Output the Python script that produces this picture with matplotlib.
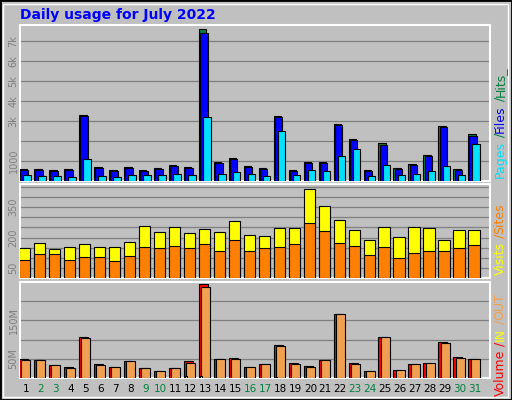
import matplotlib
matplotlib.use("Agg")
import matplotlib.pyplot as plt
import numpy as np

days = list(range(1, 32))
weekend = [2, 3, 9, 10, 16, 17, 23, 24, 30, 31]
hits = [600,600,550,600,3300,700,550,700,550,650,800,700,7600,950,1150,750,650,3250,550,950,950,2850,2100,550,1900,650,850,1300,2750,600,2350]
files = [550,550,500,550,3250,650,500,650,500,600,750,650,7400,900,1100,700,600,3200,500,900,900,2800,2050,500,1800,600,800,1250,2700,550,2250]
pages = [300,250,250,200,1100,250,200,300,300,300,350,300,3200,350,450,350,250,2500,300,550,500,1250,1600,250,800,300,350,500,750,300,1850]
sites = [147,172,142,152,167,152,152,177,257,227,252,222,242,227,282,212,207,247,247,442,357,287,237,187,252,202,252,247,187,237,237]
visits = [87,117,117,87,102,102,82,107,152,147,157,147,167,132,187,132,147,152,167,272,232,172,157,112,152,97,122,132,132,147,162]
volume = [50,47,34,28,107,36,28,45,25,17,25,45,246,50,53,28,36,86,39,31,47,167,39,17,107,20,36,39,94,55,50]
kb_out = [47,47,34,26,104,33,28,45,25,17,25,39,238,50,50,28,36,83,37,28,47,167,36,17,107,20,36,39,91,52,50]
kb_in = [0,0,0,0,0,0,0,0,0,0,0,4,5,0,0,0,0,3,0,0,0,0,0,0,0,0,0,0,0,0,0]

W, H = 512, 400
fig = plt.figure(figsize=(W/100, H/100), dpi=100)
fig.patch.set_facecolor('#c0c0c0')
# outer frame
fig.add_artist(plt.Rectangle((0, 0), 1, 1, transform=fig.transFigure, fill=False, edgecolor='black', lw=2))
fig.add_artist(plt.Rectangle((3/W, 3/H), (W-7)/W, (H-7)/H, transform=fig.transFigure, fill=False, edgecolor='white', lw=1))
fig.text(20/W, 1-15/H, 'Daily usage for July 2022', color='#0000ff', fontsize=10, fontweight='bold', va='center', ha='left', family='DejaVu Sans')

def mkax(top, bottom):
    ax = fig.add_axes([20/W, 1-bottom/H, 470/W, (bottom-top)/H])
    ax.set_facecolor('#c0c0c0')
    for s in ax.spines.values():
        s.set_color('white'); s.set_linewidth(1.5)
    ax.set_xlim(0.6, 32.0)
    ax.tick_params(axis='y', length=0, labelsize=7, labelcolor='#808080', pad=1)
    ax.tick_params(axis='x', length=0)
    for t in ax.get_yticklabels():
        t.set_rotation(90)
    return ax

x = np.array(days, dtype=float)

def bars(ax, vals, off, w, color):
    ax.bar(x + off, vals, width=w, align='edge', color=color, edgecolor='black', linewidth=0.8, zorder=3)

# top panel
ax1 = mkax(25, 181)
ax1.set_ylim(0, 7800)
for g in range(1000, 8000, 1000):
    ax1.axhline(g, color='#808080', lw=0.9, zorder=1)
ax1.set_yticks([1000, 3000, 4000, 5000, 6000, 7000])
ax1.set_yticklabels(['1000', '3k', '4k', '5k', '6k', '7k'], rotation=90, va='center')
bars(ax1, hits, -0.45, 0.5, '#008040')
bars(ax1, files, -0.37, 0.5, '#0000ff')
bars(ax1, pages, -0.17, 0.5, '#00e0ff')
ax1.set_xticks([])

# middle panel
ax2 = mkax(184, 278)
ax2.set_ylim(0, 465)
for g in range(50, 500, 50):
    ax2.axhline(g, color='#808080', lw=0.9, zorder=1)
ax2.set_yticks([50, 200, 350])
ax2.set_yticklabels(['50', '200', '350'], rotation=90, va='center')
bars(ax2, sites, -0.45, 0.75, '#ffff00')
bars(ax2, visits, -0.45, 0.75, '#ff8000')
ax2.set_xticks([])

# bottom panel
ax3 = mkax(282, 378)
ax3.set_ylim(0, 250)
for g in [50, 100, 150, 200]:
    ax3.axhline(g, color='#808080', lw=0.9, zorder=1)
ax3.set_yticks([50, 150])
ax3.set_yticklabels(['50M', '150M'], rotation=90, va='center')
bars(ax3, volume, -0.45, 0.6, '#ff0000')
bars(ax3, kb_out, -0.3, 0.6, '#f0a050')
bars(ax3, kb_in, -0.35, 0.1, '#ffff00')
ax3.set_xticks(x)
ax3.set_xticklabels([str(d) for d in days], fontsize=7.5)
for t, d in zip(ax3.get_xticklabels(), days):
    t.set_color('#008040' if d in weekend else 'black')
ax3.tick_params(axis='x', pad=4)

# right side labels
def vlabel(parts, xpix, ybottom):
    y = ybottom
    for txt, col in parts:
        t = fig.text(xpix/W, y/H, txt, color=col, rotation=90, fontsize=9, fontweight='bold' if False else 'normal', ha='center', va='bottom')
        fig.canvas.draw()
        bb = t.get_window_extent()
        y += bb.height
vlabel([('Pages', '#00e0ff'), (' /', '#008040'), ('Files', '#0000ff'), (' /', '#008040'), ('Hits_', '#008040')], 500, 400-178)
vlabel([('Visits', '#ffff00'), (' /', '#ff8000'), ('Sites', '#ff8000')], 500, 400-275)
vlabel([('Volume', '#ff0000'), (' /', '#ff0000'), ('IN', '#ffff00'), (' /', '#f0a050'), ('OUT', '#f0a050')], 500, 400-396)

fig.savefig('out.png', dpi=100, facecolor=fig.get_facecolor())
